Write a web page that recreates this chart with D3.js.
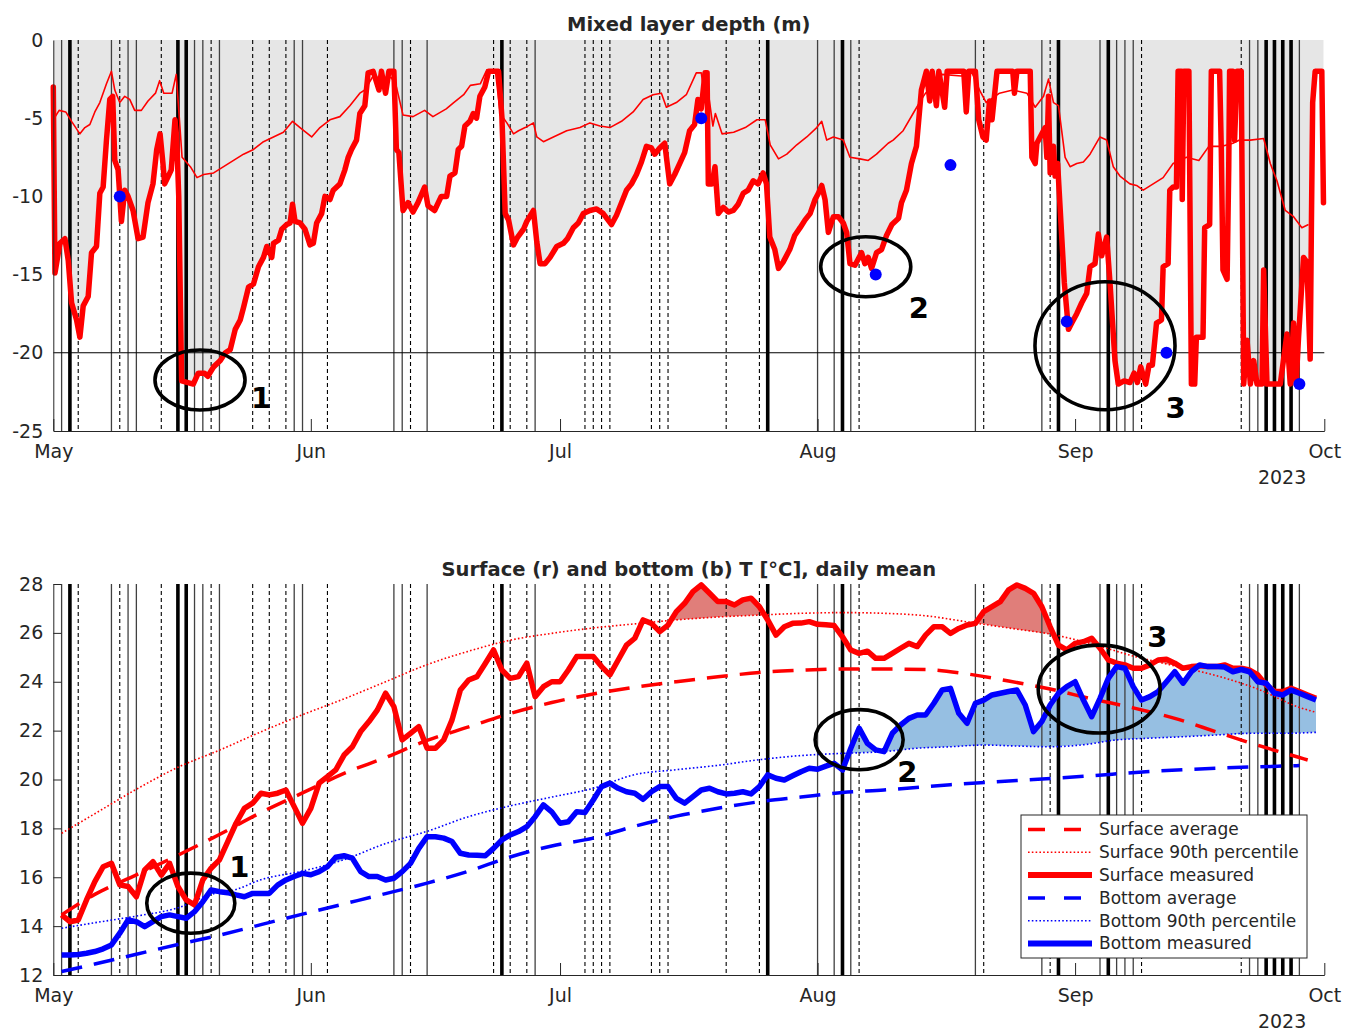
<!DOCTYPE html>
<html>
<head>
<meta charset="utf-8">
<script src="https://cdn.jsdelivr.net/npm/d3@7"></script>
<style>
  html, body { margin: 0; padding: 0; background: #fff; }
  svg text { font-family: "DejaVu Sans", sans-serif; fill: #262626; }
</style>
</head>
<body>
<svg id="chart" width="1345" height="1031"></svg>
<script>
// ---------- data (time in days after 1 May 2023) ----------

// Event markers drawn as vertical lines in both panels
const eventsThin   = [1, 7, 9, 10, 17, 18, 20, 29, 30, 41, 42, 45, 58, 92, 94, 96, 111, 119, 126, 128, 129, 130, 144, 145, 150];
const eventsThick  = [2, 15, 16, 54, 86, 95, 121, 127, 146, 147, 148, 149];
const eventsDashed = [3, 8, 13, 19, 24, 26, 28, 33, 43, 53, 55, 57, 64, 65, 66, 67, 72, 73, 74, 81, 85, 97, 112, 120, 131, 143];

// Mixed layer depth, measured [day, m]
const mldMeasured = [
  [0,-3.0],[0.2,-14.9],[0.8,-13.0],[1.4,-12.7],[1.8,-14.1],[2.2,-16.8],[2.8,-17.9],[3.2,-19.0],[3.6,-17.0],[4.2,-16.4],
  [4.6,-13.6],[5.2,-13.2],[5.6,-9.8],[6.0,-9.4],[6.4,-6.4],[6.8,-3.8],[7.15,-3.6],[7.4,-7.7],[7.8,-8.3],[8.2,-11.6],
  [8.6,-9.6],[9.0,-10.0],[9.6,-10.9],[10.2,-12.7],[10.8,-12.6],[11.4,-10.4],[12.0,-9.2],[12.45,-7.0],[12.85,-6.0],[13.2,-7.9],
  [13.4,-9.2],[13.85,-8.7],[14.2,-8.3],[14.65,-5.1],[14.85,-6.2],[15.1,-10.0],[15.45,-21.8],[16.85,-22.0],[17.45,-21.3],[18.2,-21.3],
  [18.6,-21.5],[19.3,-20.9],[20.1,-20.5],[20.7,-20.0],[21.3,-19.8],[21.9,-18.5],[22.5,-17.9],[22.9,-17.1],[23.5,-15.8],[24.1,-15.6],
  [24.7,-14.5],[25.3,-13.9],[25.7,-13.2],[26.3,-13.9],[26.5,-13.0],[27.1,-12.8],[27.5,-12.1],[28.1,-11.8],[28.5,-11.7],[28.8,-10.5],
  [29.1,-11.6],[29.7,-11.7],[30.3,-12.1],[30.9,-13.1],[31.3,-13.0],[31.7,-11.7],[32.3,-11.1],[32.7,-10.0],[33.3,-10.2],[33.7,-9.6],
  [34.5,-9.2],[35.1,-8.3],[35.5,-7.5],[35.9,-7.0],[36.5,-6.4],[36.9,-4.7],[37.5,-4.2],[37.9,-2.1],[38.5,-2.0],[39.2,-3.2],
  [39.5,-2.0],[40.0,-3.4],[40.4,-2.0],[41.0,-2.0],[41.3,-7.0],[41.6,-7.2],[42.1,-10.9],[42.7,-10.4],[43.3,-11.0],[43.9,-10.4],
  [44.7,-9.4],[45.1,-10.6],[45.9,-10.9],[46.7,-10.0],[47.35,-10.0],[47.75,-8.7],[48.35,-8.5],[48.75,-7.0],[49.15,-6.8],[49.55,-5.5],
  [50.15,-5.2],[50.55,-4.7],[50.95,-5.0],[51.35,-3.6],[51.95,-3.0],[52.4,-2.0],[53.6,-2.0],[54.0,-4.9],[54.4,-11.1],[54.8,-11.5],
  [55.4,-13.1],[55.9,-12.6],[56.6,-12.1],[57.0,-11.6],[57.8,-10.9],[58.2,-12.9],[58.6,-14.3],[59.2,-14.3],[59.8,-13.9],[60.6,-13.2],
  [61.4,-13.0],[61.9,-12.7],[62.6,-12.0],[63.2,-11.7],[63.8,-11.1],[64.6,-10.9],[65.4,-10.8],[66.2,-11.1],[67.2,-11.8],[67.8,-11.2],
  [68.4,-10.4],[69.0,-9.6],[69.6,-9.2],[70.2,-8.6],[70.8,-7.8],[71.4,-6.8],[72.0,-6.9],[72.4,-7.3],[73.0,-6.9],[73.6,-6.6],
  [74.2,-9.2],[74.8,-8.6],[75.4,-7.9],[76.0,-7.2],[76.6,-5.8],[77.2,-5.4],[77.6,-3.8],[78.0,-4.4],[78.45,-2.1],[78.7,-2.1],
  [78.85,-9.2],[79.3,-9.2],[79.65,-8.1],[80.05,-11.1],[80.65,-10.7],[81.25,-11.0],[81.85,-10.9],[82.45,-10.5],[83.05,-9.8],[83.65,-9.6],
  [84.25,-9.0],[84.85,-9.2],[85.45,-8.5],[85.85,-9.2],[86.25,-12.6],[86.85,-13.4],[87.3,-14.6],[87.85,-14.2],[88.65,-13.4],[89.25,-12.5],
  [89.9,-12.0],[90.5,-11.5],[91.1,-11.1],[91.7,-10.2],[92.1,-9.8],[92.5,-9.3],[92.9,-10.2],[93.3,-12.3],[93.9,-11.3],[94.5,-11.3],
  [95.1,-11.7],[95.5,-12.3],[95.9,-14.3],[96.5,-14.4],[97.3,-13.6],[97.7,-14.3],[98.1,-13.9],[98.5,-14.6],[99.1,-13.6],[99.7,-13.4],
  [100.3,-12.5],[100.95,-11.8],[101.75,-11.4],[102.1,-10.4],[102.7,-9.6],[103.3,-7.9],[103.9,-6.8],[104.5,-3.2],[105.1,-2.0],[105.5,-3.9],
  [105.8,-2.0],[106.3,-4.2],[106.6,-2.0],[107.3,-4.3],[107.6,-2.0],[109.6,-2.0],[109.9,-4.6],[110.2,-2.0],[111.0,-2.0],[111.4,-5.1],
  [111.9,-6.2],[112.3,-6.4],[112.7,-3.9],[113.0,-5.1],[113.6,-2.0],[115.5,-2.0],[115.7,-3.4],[116.0,-2.0],[117.6,-2.0],[117.8,-7.5],
  [118.2,-7.9],[118.4,-6.6],[119.0,-6.0],[119.4,-5.6],[119.6,-7.5],[119.8,-3.6],[120.0,-8.5],[120.4,-6.8],[120.6,-8.7],[120.9,-7.9],
  [121.3,-11.7],[121.7,-15.5],[122.2,-18.5],[122.6,-18.1],[123.2,-17.5],[123.8,-16.8],[124.4,-16.2],[124.8,-14.5],[125.4,-14.3],[125.8,-12.4],
  [126.2,-13.8],[126.8,-12.6],[127.2,-15.5],[127.8,-20.5],[128.2,-22.0],[128.9,-21.8],[129.6,-21.9],[130.1,-21.3],[130.5,-21.9],[130.9,-20.9],
  [131.5,-22.0],[131.9,-20.8],[132.3,-20.8],[132.8,-18.1],[133.4,-17.9],[133.6,-14.5],[134.2,-14.3],[134.4,-9.6],[134.8,-9.4],[135.2,-9.4],
  [135.4,-2.0],[135.8,-2.0],[135.9,-10.2],[136.1,-2.0],[136.7,-2.0],[137.0,-22.0],[137.4,-22.0],[137.6,-19.0],[138.4,-19.0],[138.6,-12.0],
  [139.2,-11.8],[139.4,-2.0],[140.4,-2.0],[140.6,-7.0],[140.8,-14.7],[141.3,-15.3],[141.5,-8.0],[141.6,-2.0],[142.0,-2.0],[142.2,-6.4],
  [142.5,-2.0],[143.0,-2.0],[143.3,-22.0],[143.7,-19.2],[144.1,-22.0],[144.5,-20.5],[144.9,-22.0],[145.5,-22.0],[145.7,-14.7],[146.1,-22.0],
  [147.7,-22.0],[148.5,-18.8],[148.9,-22.0],[149.3,-18.1],[149.6,-22.0],[149.9,-19.0],[150.5,-13.9],[150.9,-14.2],[151.3,-20.4],[151.45,-11.7],
  [151.6,-4.0],[151.9,-2.0],[152.7,-2.0],[152.9,-10.4]
];

// Mixed layer depth, reference curve [day, m]
const mldReference = [
  [0,-5.1],[0.7,-4.5],[1.5,-4.6],[2.2,-5.2],[3.2,-6.0],[3.8,-5.6],[4.4,-5.4],[5.0,-4.6],[5.6,-4.0],[6.4,-2.8],
  [7.0,-2.0],[7.4,-3.2],[8.0,-4.0],[8.6,-3.6],[9.2,-3.8],[9.8,-4.5],[10.6,-4.5],[11.4,-3.9],[12.3,-3.4],[12.8,-2.6],
  [13.3,-3.4],[14.3,-3.4],[14.8,-2.2],[15.5,-7.5],[16.5,-8.1],[17.3,-8.8],[18.1,-8.6],[19.3,-8.5],[20.5,-8.1],[21.7,-7.7],
  [22.9,-7.3],[24.1,-7.0],[25.3,-6.5],[26.5,-6.2],[27.7,-5.9],[28.8,-5.2],[29.7,-5.6],[31.1,-6.2],[32.1,-5.6],[33.3,-5.1],
  [34.5,-4.9],[35.7,-4.2],[36.9,-3.4],[37.5,-3.2],[38.5,-2.3],[39.7,-2.5],[40.7,-2.4],[41.3,-3.0],[42.1,-4.8],[43.3,-4.9],
  [44.7,-4.5],[45.7,-4.9],[47.3,-4.4],[48.2,-4.0],[49.4,-3.5],[50.2,-2.9],[51.4,-2.8],[52.2,-1.9],[53.2,-1.9],[53.8,-4.7],
  [54.6,-5.3],[55.4,-6.0],[56.0,-5.8],[56.8,-5.6],[57.8,-5.3],[58.2,-6.2],[59.0,-6.5],[60.2,-6.2],[61.8,-5.8],[63.4,-5.6],
  [64.6,-5.3],[65.8,-5.5],[67.0,-5.6],[68.4,-5.2],[69.8,-4.6],[71.0,-3.8],[72.2,-3.5],[73.2,-3.4],[73.8,-4.3],[75.0,-4.0],
  [76.2,-3.5],[77.4,-2.1],[78.0,-2.1],[78.3,-3.2],[78.6,-2.4],[79.4,-5.5],[79.7,-4.7],[80.5,-6.0],[81.9,-5.9],[83.3,-5.6],
  [84.7,-5.1],[85.7,-5.1],[86.3,-6.7],[87.3,-7.6],[88.3,-7.3],[89.5,-6.7],[90.7,-6.2],[91.9,-5.6],[92.5,-5.2],[93.1,-6.4],
  [93.9,-6.2],[95.1,-6.4],[95.9,-7.5],[97.1,-7.6],[98.1,-7.7],[99.1,-7.3],[100.5,-6.6],[101.1,-6.4],[102.3,-5.8],[103.5,-4.7],
  [104.5,-3.8],[105.0,-3.4],[105.9,-2.8],[107.0,-2.2],[109.3,-2.3],[110.5,-2.0],[111.5,-3.2],[112.3,-4.0],[113.1,-3.7],[113.9,-3.4],
  [115.5,-3.2],[117.2,-3.4],[118.2,-4.3],[119.2,-3.6],[119.8,-2.5],[120.4,-4.0],[121.0,-4.2],[121.8,-7.5],[122.4,-8.1],[123.2,-7.9],
  [124.0,-7.8],[124.8,-7.3],[126.0,-6.2],[126.8,-6.4],[127.6,-8.1],[128.4,-8.7],[129.6,-9.2],[130.4,-9.3],[131.2,-9.6],[132.4,-9.2],
  [133.6,-8.8],[134.8,-7.9],[136.4,-7.5],[137.9,-7.7],[139.1,-6.8],[140.7,-6.8],[142.0,-6.6],[142.8,-6.4],[144.1,-6.4],[145.7,-6.3],
  [146.5,-7.9],[147.3,-9.0],[148.3,-10.9],[149.3,-11.3],[150.3,-12.0],[151.1,-11.8]
];

// Profile-based MLD estimates [day, m]
const mldProfiles = [[8,-10],[78,-5],[99,-15],[108,-8],[122,-18],[134,-20],[150,-22]];

// Daily mean temperatures, one value per day from day 1 to day 152
const surfaceMeasured = [
  14.46,14.18,14.25,15.07,15.82,16.43,16.57,15.69,15.62,15.20,16.30,16.64,16.09,16.57,15.62,15.07,14.87,15.89,16.37,16.71,
  17.46,18.21,18.82,19.03,19.44,19.37,19.44,19.57,18.89,18.21,18.82,19.85,20.12,20.39,21.00,21.34,21.96,22.37,22.84,23.53,
  22.98,21.62,21.89,22.16,21.28,21.28,21.62,22.44,23.66,24.07,24.21,24.75,25.30,24.48,24.14,24.21,24.76,23.39,23.80,24.00,
  24.00,24.48,25.03,25.03,25.03,24.62,24.28,24.89,25.50,25.78,26.53,26.39,26.05,26.32,26.87,27.21,27.69,27.96,27.62,27.28,
  27.28,27.14,27.35,27.42,27.07,26.53,25.91,26.25,26.39,26.40,26.46,26.35,26.33,26.30,25.84,25.30,25.16,25.25,24.96,24.96,
  25.16,25.37,25.57,25.44,25.91,26.25,26.25,25.98,26.18,26.32,26.39,26.87,27.07,27.28,27.76,27.96,27.82,27.62,27.07,26.25,
  25.50,25.30,25.57,25.64,25.78,25.37,24.89,24.76,24.69,24.55,24.55,24.69,24.89,24.92,24.76,24.55,24.62,24.65,24.62,24.62,
  24.69,24.55,24.55,24.48,24.28,23.87,23.60,23.60,23.73,23.60,23.46,23.32
];
const bottomMeasured = [
  12.82,12.82,12.84,12.89,12.96,13.07,13.23,13.71,14.25,14.18,13.98,14.18,14.39,14.46,14.39,14.32,14.59,15.00,15.48,15.41,
  15.37,15.28,15.20,15.34,15.34,15.34,15.68,15.89,16.03,16.16,16.10,16.23,16.43,16.82,16.88,16.78,16.23,16.03,16.03,15.89,
  15.96,16.23,16.57,17.18,17.66,17.66,17.60,17.46,16.98,16.91,16.90,16.88,17.18,17.53,17.73,17.87,18.07,18.48,18.96,18.68,
  18.21,18.27,18.68,18.65,19.16,19.71,19.85,19.64,19.50,19.44,19.19,19.50,19.71,19.71,19.23,19.03,19.30,19.57,19.64,19.50,
  19.41,19.44,19.50,19.41,19.71,20.19,20.05,19.98,20.15,20.32,20.46,20.42,20.55,20.66,20.39,21.28,22.10,21.48,21.21,21.14,
  21.89,22.23,22.50,22.64,22.64,23.12,23.66,23.73,22.71,22.30,23.12,23.25,23.46,23.53,23.60,23.66,23.05,21.96,22.37,23.05,
  23.53,23.80,24.00,23.25,22.57,23.32,24.14,24.62,24.55,23.80,23.25,23.39,23.60,24.00,24.41,23.94,24.41,24.69,24.62,24.62,
  24.60,24.41,24.50,24.41,24.00,23.94,23.53,23.46,23.66,23.53,23.39,23.25
];

// Climatology [day, °C]
const surfaceAverage = [
  [1,14.46],[5,15.3],[10,16.1],[15,16.9],[20,17.75],[25,18.65],[30,19.45],[35,20.25],[40,20.9],[45,21.6],[50,22.15],
  [55,22.7],[60,23.15],[65,23.5],[70,23.78],[75,24.0],[80,24.2],[85,24.38],[90,24.47],[95,24.52],[100,24.52],[105,24.5],
  [110,24.32],[115,24.03],[120,23.7],[125,23.3],[130,22.93],[135,22.5],[140,21.95],[145,21.4],[150,20.9],[151,20.8]
];
const surfaceP90 = [
  [1,17.8],[5,18.6],[10,19.6],[15,20.5],[20,21.2],[25,21.95],[30,22.65],[35,23.3],[40,24.0],[45,24.7],[50,25.25],
  [55,25.7],[60,25.98],[65,26.2],[70,26.37],[75,26.53],[80,26.65],[85,26.73],[90,26.8],[95,26.83],[100,26.8],[105,26.7],
  [110,26.45],[115,26.2],[120,25.95],[125,25.55],[130,25.05],[135,24.65],[140,24.25],[145,23.7],[150,22.95],[152,22.75]
];
const bottomAverage = [
  [1,12.14],[5,12.45],[10,12.85],[15,13.25],[20,13.63],[25,14.06],[30,14.49],[35,14.91],[40,15.33],[45,15.76],[50,16.25],
  [55,16.83],[60,17.28],[65,17.6],[70,18.09],[75,18.5],[80,18.82],[85,19.09],[90,19.28],[95,19.47],[100,19.57],[108,19.79],
  [116,19.96],[124,20.13],[132,20.33],[140,20.46],[148,20.55],[150,20.57]
];
const bottomP90 = [
  [1,13.91],[5,14.14],[10,14.41],[15,14.75],[19,15.3],[22,15.5],[25,15.9],[30,16.25],[35,16.72],[40,17.38],[45,17.88],
  [50,18.48],[55,18.92],[60,19.28],[65,19.64],[70,20.2],[75,20.4],[80,20.58],[85,20.81],[90,20.98],[95,21.07],[100,21.14],
  [104,21.28],[108,21.34],[112,21.41],[116,21.37],[120,21.34],[124,21.42],[128,21.62],[132,21.69],[136,21.75],[140,21.82],
  [144,21.89],[148,21.89],[152,21.93]
];

// Marked episodes: ellipse centre and half-axes in data units, label anchor
const topEpisodes = [
  {id: "1", cx: 17.66, cy: -21.74, rx: 5.42, ry: 1.92, lx: 25.0, ly: -23.5},
  {id: "2", cx: 97.8,  cy: -14.5,  rx: 5.42, ry: 1.92, lx: 104.2, ly: -17.8},
  {id: "3", cx: 126.6, cy: -19.55, rx: 8.43, ry: 4.09, lx: 135.1, ly: -24.2}
];
const bottomEpisodes = [
  {id: "1", cx: 16.55, cy: 14.94, rx: 5.3,  ry: 1.23, lx: 22.4,  ly: 16.01},
  {id: "2", cx: 97.0,  cy: 21.63, rx: 5.3,  ry: 1.23, lx: 102.8, ly: 19.9},
  {id: "3", cx: 125.9, cy: 23.7,  rx: 7.34, ry: 1.8,  lx: 132.9, ly: 25.42}
];

const depthTicks = [-25, -20, -15, -10, -5, 0];
const tempTicks = [12, 14, 16, 18, 20, 22, 24, 26, 28];

const legendItems = [
  {label: "Surface average",         color: "#ff0000", width: 3.5, dash: "17,19"},
  {label: "Surface 90th percentile", color: "#ff0000", width: 1.6, dash: "1.6,2.2"},
  {label: "Surface measured",        color: "#ff0000", width: 6,   dash: null},
  {label: "Bottom average",          color: "#0000ff", width: 3.5, dash: "17,19"},
  {label: "Bottom 90th percentile",  color: "#0000ff", width: 1.6, dash: "1.6,2.2"},
  {label: "Bottom measured",         color: "#0000ff", width: 6,   dash: null}
];

// ---------- helpers ----------
const T0 = Date.UTC(2023, 4, 1);
const toDate = d => new Date(T0 + d * 864e5);
const svg = d3.select("#chart");
const INK = "#262626";
const RED = "#ff0000", BLUE = "#0000ff";

const x = d3.scaleUtc()
  .domain([new Date(Date.UTC(2023, 4, 1)), new Date(Date.UTC(2023, 9, 1))])
  .range([53.3, 1324.3]);

const daily = vals => vals.map((v, i) => [i + 1, v]);

function interp(series, day) {
  const i = d3.bisector(d => d[0]).right(series, day);
  if (i <= 0) return series[0][1];
  if (i >= series.length) return series[series.length - 1][1];
  const a = series[i - 1], b = series[i];
  return a[1] + (b[1] - a[1]) * (day - a[0]) / (b[0] - a[0]);
}

// Points where a measured series exceeds its percentile, with crossings inserted
function exceedance(meas, pct) {
  const out = [];
  for (let i = 0; i < meas.length; i++) {
    const [d, v] = meas[i];
    const p = interp(pct, d);
    if (i > 0) {
      const [d0, v0] = meas[i - 1];
      const p0 = interp(pct, d0);
      const e0 = v0 - p0, e1 = v - p;
      if (e0 * e1 < 0) {
        const t = e0 / (e0 - e1);
        const dc = d0 + t * (d - d0);
        const pc = interp(pct, dc);
        out.push({d: dc, top: pc, base: pc});
      }
    }
    out.push({d, top: Math.max(v, p), base: p});
  }
  return out;
}

function drawEvents(g, y0, y1) {
  g.selectAll(null).data(eventsThin).join("line")
    .attr("x1", d => x(toDate(d))).attr("x2", d => x(toDate(d)))
    .attr("y1", y0).attr("y2", y1)
    .attr("stroke", "#404040").attr("stroke-width", 1.3);
  g.selectAll(null).data(eventsDashed).join("line")
    .attr("x1", d => x(toDate(d))).attr("x2", d => x(toDate(d)))
    .attr("y1", y0).attr("y2", y1)
    .attr("stroke", "#000").attr("stroke-width", 1.1).attr("stroke-dasharray", "4,3");
  g.selectAll(null).data(eventsThick).join("line")
    .attr("x1", d => x(toDate(d))).attr("x2", d => x(toDate(d)))
    .attr("y1", y0).attr("y2", y1)
    .attr("stroke", "#000").attr("stroke-width", 3.6);
}

function drawXAxis(g, yPos) {
  const ax = d3.axisBottom(x)
    .ticks(d3.utcMonth.every(1))
    .tickFormat(d3.utcFormat("%b"))
    .tickSizeInner(-12).tickSizeOuter(0).tickPadding(14);
  const a = g.append("g").attr("transform", `translate(0,${yPos})`).call(ax);
  a.select(".domain").attr("stroke", INK);
  a.selectAll(".tick line").attr("stroke", INK);
  a.selectAll(".tick text").attr("font-size", 19).attr("fill", INK);
  g.append("text").attr("x", x.range()[1] - 18).attr("y", yPos + 53)
    .attr("text-anchor", "end").attr("font-size", 19).text("2023");
}

function drawEpisodes(g, eps, y) {
  const sx = d => x(toDate(d));
  eps.forEach(e => {
    const cx = sx(e.cx), cy = y(e.cy);
    const rx = sx(e.cx + e.rx) - cx, ry = Math.abs(y(e.cy + e.ry) - cy);
    g.append("ellipse").attr("cx", cx).attr("cy", cy).attr("rx", rx).attr("ry", ry)
      .attr("fill", "none").attr("stroke", "#000").attr("stroke-width", 3.6);
    g.append("text").attr("x", sx(e.lx)).attr("y", y(e.ly))
      .attr("text-anchor", "middle").attr("font-size", 29).attr("font-weight", "bold")
      .style("fill", "#000").text(e.id);
  });
}

// ---------- upper panel: mixed layer depth ----------
const yTop = d3.scaleLinear().domain([-25, 0]).range([431, 40]);
const mldG = svg.append("g");

mldG.append("path").datum(mldMeasured)
  .attr("fill", "#e6e6e6")
  .attr("d", d3.area().x(d => x(toDate(d[0]))).y0(yTop(0)).y1(d => yTop(d[1])));

drawEvents(mldG, yTop(0), yTop(-25));

mldG.append("line").attr("x1", x.range()[0]).attr("x2", x.range()[1])
  .attr("y1", yTop(-20)).attr("y2", yTop(-20)).attr("stroke", "#000").attr("stroke-width", 1.1);

const lineTop = d3.line().x(d => x(toDate(d[0]))).y(d => yTop(d[1]));
mldG.append("path").datum(mldReference).attr("d", lineTop)
  .attr("fill", "none").attr("stroke", RED).attr("stroke-width", 1.6).attr("stroke-linejoin", "round");
mldG.append("path").datum(mldMeasured).attr("d", lineTop)
  .attr("fill", "none").attr("stroke", RED).attr("stroke-width", 5.5)
  .attr("stroke-linejoin", "round").attr("stroke-linecap", "round");

mldG.selectAll(null).data(mldProfiles).join("circle")
  .attr("cx", d => x(toDate(d[0]))).attr("cy", d => yTop(d[1])).attr("r", 6)
  .attr("fill", BLUE);

drawEpisodes(mldG, topEpisodes, yTop);

const yAxTop = mldG.append("g").attr("transform", `translate(${x.range()[0]},0)`)
  .call(d3.axisLeft(yTop).tickValues(depthTicks).tickFormat(d => String(d))
    .tickSizeInner(0).tickSizeOuter(0).tickPadding(10));
yAxTop.select(".domain").attr("stroke", INK);
yAxTop.selectAll(".tick text").attr("font-size", 19).attr("fill", INK);
drawXAxis(mldG, yTop(-25));

mldG.append("text").attr("x", (x.range()[0] + x.range()[1]) / 2).attr("y", 31)
  .attr("text-anchor", "middle").attr("font-size", 19.5).attr("font-weight", "bold")
  .text("Mixed layer depth (m)");

// ---------- lower panel: temperatures ----------
const yBot = d3.scaleLinear().domain([12, 28]).range([975, 584]);
const tempG = svg.append("g");

const surf = daily(surfaceMeasured);
const bott = daily(bottomMeasured);

const excArea = d3.area().x(d => x(toDate(d.d))).y0(d => yBot(d.base)).y1(d => yBot(d.top));
tempG.append("path").datum(exceedance(surf, surfaceP90)).attr("d", excArea).attr("fill", "#e07e7a");
tempG.append("path").datum(exceedance(bott, bottomP90)).attr("d", excArea).attr("fill", "#96bfe2");

drawEvents(tempG, yBot(28), yBot(12));

const lineBot = d3.line().x(d => x(toDate(d[0]))).y(d => yBot(d[1]));
const lineSmooth = d3.line().x(d => x(toDate(d[0]))).y(d => yBot(d[1])).curve(d3.curveMonotoneX);

function series(data, gen, color, width, dash) {
  const p = tempG.append("path").datum(data).attr("d", gen)
    .attr("fill", "none").attr("stroke", color).attr("stroke-width", width)
    .attr("stroke-linejoin", "round");
  if (dash) p.attr("stroke-dasharray", dash);
}
series(surfaceP90, lineSmooth, RED, 1.6, "1.6,2.2");
series(bottomP90, lineSmooth, BLUE, 1.6, "1.6,2.2");
series(surfaceAverage, lineSmooth, RED, 3.5, "21,12");
series(bottomAverage, lineSmooth, BLUE, 3.5, "21,12");
series(surf, lineBot, RED, 5.5, null);
series(bott, lineBot, BLUE, 5.5, null);

drawEpisodes(tempG, bottomEpisodes, yBot);

const yAxBot = tempG.append("g").attr("transform", `translate(${x.range()[0]},0)`)
  .call(d3.axisLeft(yBot).tickValues(tempTicks).tickFormat(d => String(d))
    .tickSizeInner(-8).tickSizeOuter(0).tickPadding(10));
yAxBot.select(".domain").attr("stroke", INK);
yAxBot.selectAll(".tick line").attr("stroke", INK);
yAxBot.selectAll(".tick text").attr("font-size", 19).attr("fill", INK);
drawXAxis(tempG, yBot(12));

tempG.append("text").attr("x", (x.range()[0] + x.range()[1]) / 2).attr("y", 576)
  .attr("text-anchor", "middle").attr("font-size", 19.5).attr("font-weight", "bold")
  .text("Surface (r) and bottom (b) T [°C], daily mean");

// legend
const leg = tempG.append("g").attr("transform", "translate(1021,815)");
leg.append("rect").attr("width", 286).attr("height", 143)
  .attr("fill", "#fff").attr("stroke", INK).attr("stroke-width", 1);
legendItems.forEach((it, i) => {
  const yy = 14.5 + i * 22.8;
  const l = leg.append("line").attr("x1", 7).attr("x2", 71).attr("y1", yy).attr("y2", yy)
    .attr("stroke", it.color).attr("stroke-width", it.width);
  if (it.dash) l.attr("stroke-dasharray", it.dash);
  leg.append("text").attr("x", 78).attr("y", yy).attr("dy", "0.35em")
    .attr("font-size", 17).text(it.label);
});
</script>
</body>
</html>
